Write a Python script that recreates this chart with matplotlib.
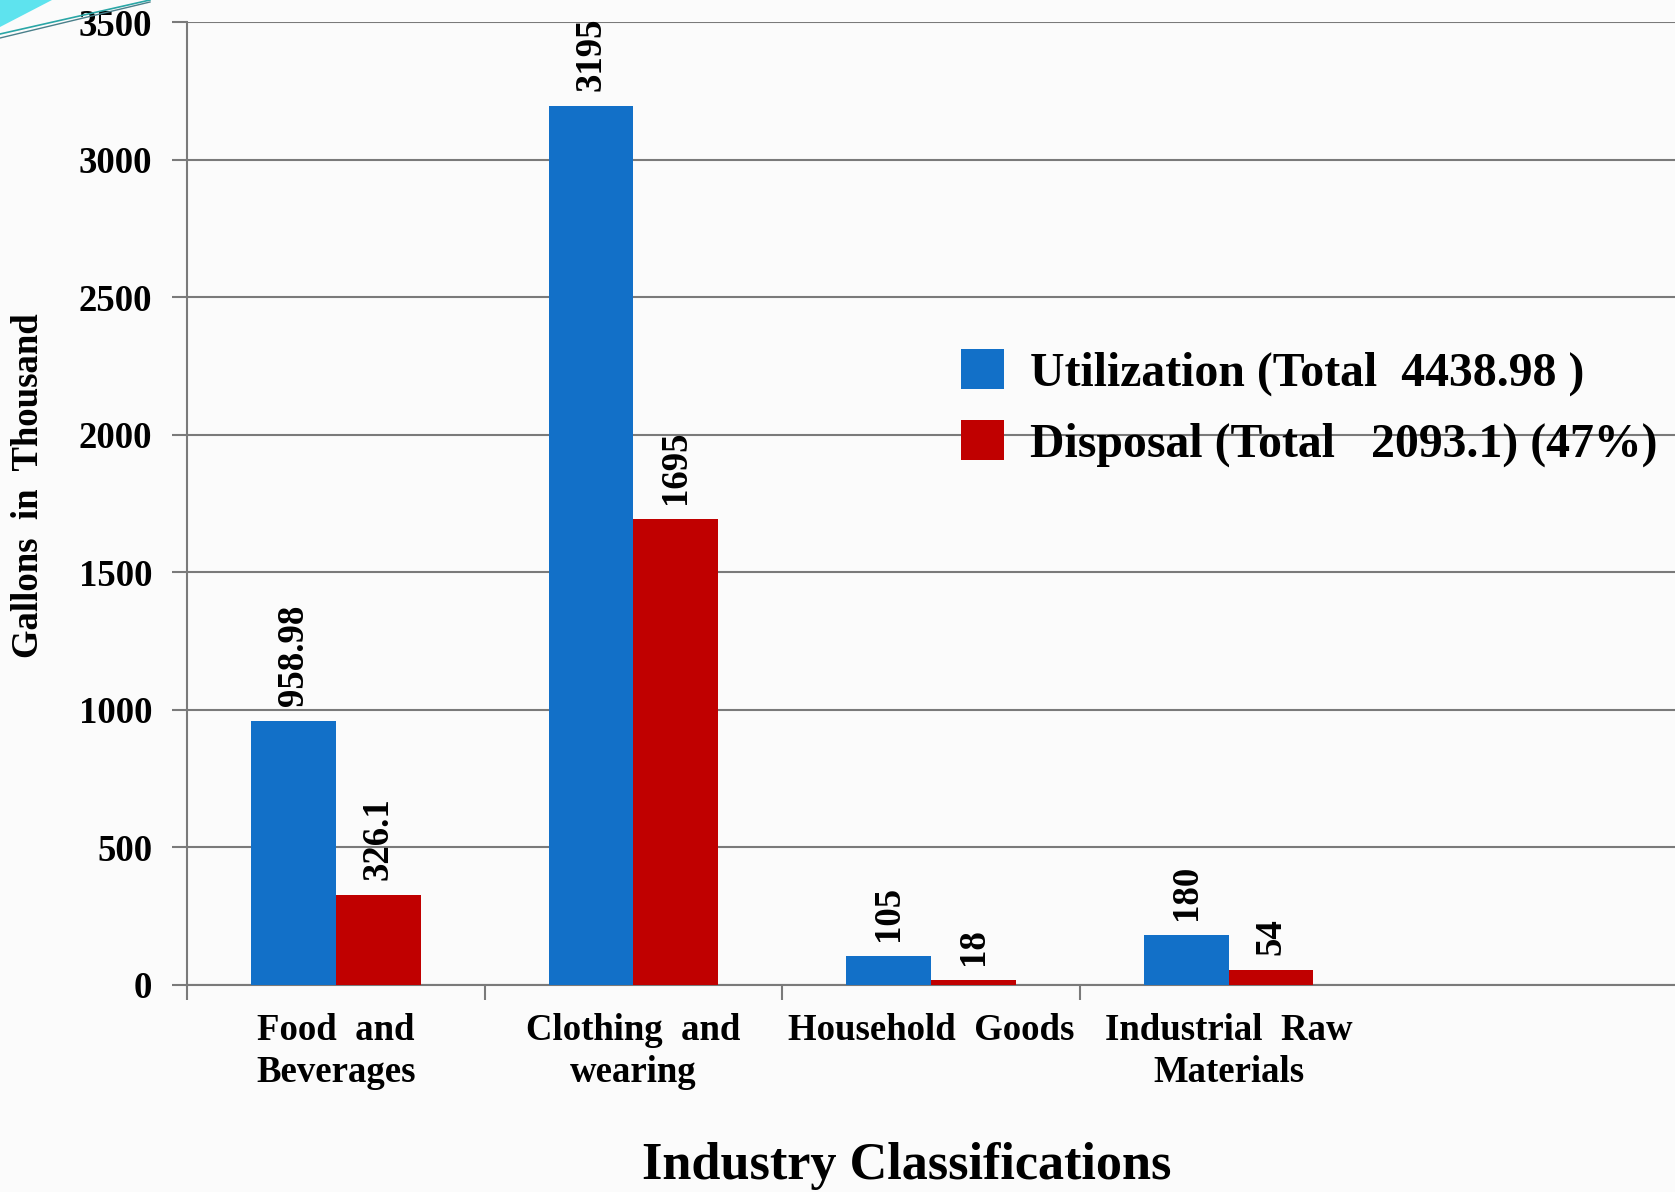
import numpy as np
import matplotlib
matplotlib.use("Agg")
import matplotlib.pyplot as plt
from matplotlib.patches import Patch, Polygon
from matplotlib.lines import Line2D

plt.rcParams.update({"font.family": "Liberation Serif", "font.weight": "bold"})

# data
categories = ["Food  and\nBeverages", "Clothing  and\nwearing", "Household  Goods",
              "Industrial  Raw\nMaterials", ""]
utilization = [958.98, 3195, 105, 180]
disposal = [326.1, 1695, 18, 54]
util_labels = ["958.98", "3195", "105", "180"]
disp_labels = ["326.1", "1695", "18", "54"]
legend_labels = ["Utilization (Total  4438.98 )", "Disposal (Total   2093.1) (47%)"]
y_ticks = [0, 500, 1000, 1500, 2000, 2500, 3000, 3500]

blue = "#1270C8"
red = "#C00000"
grid_c = "#7a7a7a"

W, H = 1675, 1192
fig = plt.figure(figsize=(W / 100, H / 100), dpi=100, facecolor="#fbfbfb")

# slide decoration in the top-left corner
fig.patches.append(Polygon([[0, 1], [52 / W, 1], [0, 1 - 27 / H]], closed=True,
                           transform=fig.transFigure, facecolor="#5ee3ee", edgecolor="none"))
fig.add_artist(Line2D([0, 150 / W], [1 - 34 / H, 1], transform=fig.transFigure,
                      color="#2aa6a6", lw=1.2))
fig.add_artist(Line2D([0, 150 / W], [1 - 38 / H, 1 - 2 / H], transform=fig.transFigure,
                      color="#4a7f8a", lw=1.0))

ax = fig.add_axes([187 / W, 207 / H, (W - 187) / W, (985 - 22.4) / H])
ax.set_facecolor("none")

x = np.arange(len(utilization))
bw = 0.285
b1 = ax.bar(x - bw / 2, utilization, bw, color=blue, zorder=3)
b2 = ax.bar(x + bw / 2, disposal, bw, color=red, zorder=3)

for bars, labs in [(b1, util_labels), (b2, disp_labels)]:
    for bar, lab in zip(bars, labs):
        ax.annotate(lab, (bar.get_x() + bar.get_width() / 2, bar.get_height()),
                    xytext=(0, 11), textcoords="offset points", rotation=90,
                    ha="center", va="bottom", fontsize=26.5, fontweight="bold",
                    clip_on=False, annotation_clip=False)

ax.set_xlim(-0.5, len(categories) - 0.5)
ax.set_ylim(0, 3500)
ax.set_yticks(y_ticks)
ax.set_yticklabels([str(v) for v in y_ticks], fontsize=26.5, fontweight="bold")
ax.yaxis.grid(True, color=grid_c, lw=1.5, zorder=0)
ax.set_axisbelow(True)

ax.set_xticks(np.arange(len(categories) - 1) + 0.5 - 1)
ax.set_xticklabels([])
ax.set_xticks(np.arange(len(categories)), minor=True)
ax.set_xticklabels(categories, minor=True, fontsize=26.5, fontweight="bold", linespacing=1.28)
ax.tick_params(axis="x", which="minor", length=0, pad=20)
ax.tick_params(axis="x", which="major", length=11, width=1.5, color=grid_c, direction="out")
ax.tick_params(axis="y", length=11, width=1.5, color=grid_c, pad=14)

for s in ["top", "right"]:
    ax.spines[s].set_visible(False)
for s in ["left", "bottom"]:
    ax.spines[s].set_color(grid_c)
    ax.spines[s].set_linewidth(1.5)

fig.text(29 / W, 1 - 486 / H, "Gallons  in  Thousand", rotation=90, ha="center",
         va="center", fontsize=26.5, fontweight="bold")
fig.text(907 / W, 1 - 1166 / H, "Industry Classifications", ha="center", va="center",
         fontsize=37.6, fontweight="bold")

handles = [Patch(facecolor=blue), Patch(facecolor=red)]
leg = ax.legend(handles, legend_labels, loc="center left", bbox_to_anchor=(961 / W, 1 - 408 / H),
                bbox_transform=fig.transFigure, frameon=False, fontsize=34.4,
                handlelength=0.9, handleheight=0.9, handletextpad=0.55,
                labelspacing=0.5, borderpad=0, borderaxespad=0)

fig.savefig("out.png", dpi=100, facecolor=fig.get_facecolor())
